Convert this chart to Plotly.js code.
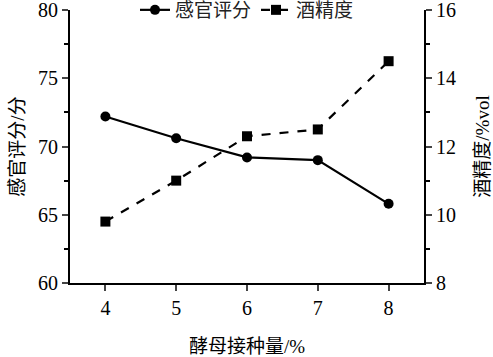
<!DOCTYPE html>
<html><head><meta charset="utf-8">
<script src="https://cdn.plot.ly/plotly-3.0.1.min.js"></script>
<style>html,body{margin:0;padding:0;background:#fff}</style>
</head><body><div id="chart" style="width:493px;height:357px"></div>
<script>
const inoculum = [4, 5, 6, 7, 8];
const sensoryScore = [72.2, 70.6, 69.2, 69.0, 65.8];
const alcohol = [9.8, 11.0, 12.3, 12.5, 14.5];
const seriesNames = ['感官评分', '酒精度'];

const numFont = 'Liberation Serif';
const cjkFont = 'Liberation Serif, Noto Sans CJK SC';

const traces = [
  {x: inoculum, y: sensoryScore, name: seriesNames[0], type: 'scatter', mode: 'lines+markers',
   line: {color: '#000', width: 2.2, dash: 'solid'}, marker: {symbol: 'circle', size: 10, color: '#000'}},
  {x: inoculum, y: alcohol, name: seriesNames[1], type: 'scatter', mode: 'lines+markers', yaxis: 'y2',
   line: {color: '#000', width: 2.2, dash: 'dash'}, marker: {symbol: 'square', size: 10, color: '#000'}}
];

const layout = {
  width: 493, height: 357,
  margin: {l: 70, r: 69, t: 10, b: 74, autoexpand: false},
  paper_bgcolor: '#fff', plot_bgcolor: '#fff',
  font: {family: cjkFont, size: 19, color: '#000'},
  showlegend: true,
  legend: {orientation: 'h', x: 0.5, xanchor: 'center', y: 1.0, yanchor: 'middle',
           font: {family: cjkFont, size: 19, color: '#222'}, bgcolor: 'rgba(0,0,0,0)',
           itemwidth: 30, tracegroupgap: 0},
  xaxis: {range: [3.5, 8.5], tickvals: inoculum, ticks: 'outside', ticklen: 6, tickwidth: 2,
          tickfont: {family: numFont, size: 20},
          showline: true, linewidth: 2, linecolor: '#000', showgrid: false, zeroline: false,
          title: {text: '酵母接种量/%', standoff: 22, font: {family: cjkFont, size: 19}}},
  yaxis: {range: [60, 80], dtick: 5, ticks: 'outside', ticklen: 6, tickwidth: 2,
          tickfont: {family: numFont, size: 20}, ticklabeloverflow: 'allow',
          showline: true, linewidth: 2, linecolor: '#000', showgrid: false, zeroline: false,
          minor: {dtick: 2.5, ticks: 'outside', ticklen: 4, tickwidth: 2, tickcolor: '#000'},
          title: {text: '感官评分/分', standoff: 8, font: {family: cjkFont, size: 19}}},
  yaxis2: {range: [8, 16], dtick: 2, overlaying: 'y', side: 'right', ticks: 'outside', ticklen: 6, tickwidth: 2,
           tickfont: {family: numFont, size: 20}, ticklabeloverflow: 'allow',
           showline: true, linewidth: 2, linecolor: '#000', showgrid: false, zeroline: false,
           minor: {dtick: 1, ticks: 'outside', ticklen: 4, tickwidth: 2, tickcolor: '#000'},
           title: {text: '酒精度/%vol', standoff: 22, font: {family: cjkFont, size: 19}}}
};

Plotly.newPlot('chart', traces, layout, {displayModeBar: false, staticPlot: true});
</script></body></html>
